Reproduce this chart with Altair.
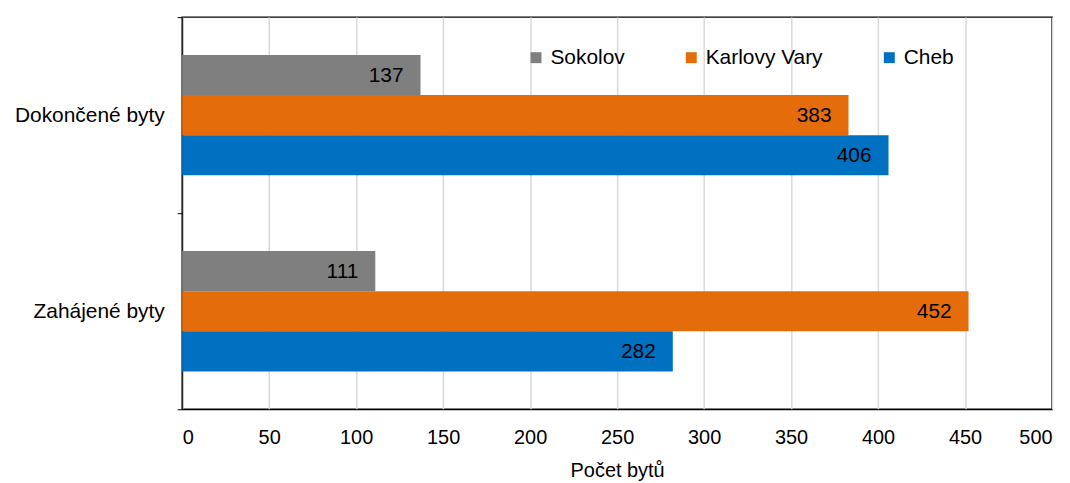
import altair as alt
import pandas as pd

categories = ["Dokončené byty", "Zahájené byty"]
series = ["Sokolov", "Karlovy Vary", "Cheb"]
colors = ["#7f7f7f", "#e46c0a", "#0070c0"]
sokolov = [137, 111]
karlovy_vary = [383, 452]
cheb = [406, 282]

rows = []
for i, c in enumerate(categories):
    for s, vals in zip(series, [sokolov, karlovy_vary, cheb]):
        rows.append({"kategorie": c, "okres": s, "hodnota": vals[i]})
df = pd.DataFrame(rows)

FONT = "Liberation Sans"

y_enc = alt.Y(
    "kategorie:N",
    sort=categories,
    title=None,
    scale=alt.Scale(paddingInner=0, paddingOuter=0),
    axis=alt.Axis(
        tickBand="extent",
        tickColor="black",
        tickSize=5,
        domainColor="black",
        labelFontSize=21,
        labelColor="black",
        labelFont=FONT,
        labelPadding=13,
        grid=False,
    ),
)
yoff = alt.YOffset("okres:N", sort=series, scale=alt.Scale(paddingInner=0, paddingOuter=0.944))
x_enc = alt.X(
    "hodnota:Q",
    title="Počet bytů",
    scale=alt.Scale(domain=[0, 500], nice=False),
    axis=alt.Axis(
        values=[0, 50, 100, 150, 200, 250, 300, 350, 400, 450, 500],
        ticks=False,
        domainColor="black",
        labelFontSize=20,
        labelColor="black",
        labelFont=FONT,
        labelPadding=18,
        titleFontSize=20,
        titleFontWeight="normal",
        titleColor="black",
        titleFont=FONT,
        titlePadding=14,
        grid=True,
        gridColor="#d9d9d9",
        gridWidth=1.5,
    ),
)

bars = alt.Chart(df).mark_bar().encode(
    x=x_enc,
    y=y_enc,
    yOffset=yoff,
    color=alt.Color(
        "okres:N",
        sort=series,
        scale=alt.Scale(domain=series, range=colors),
        legend=alt.Legend(
            title=None,
            orient="none",
            legendX=345,
            legendY=30,
            direction="horizontal",
            columns=3,
            columnPadding=56,
            symbolType="square",
            symbolSize=121,
            symbolStrokeWidth=0,
            labelFontSize=21,
            labelFont=FONT,
            labelColor="black",
            labelOffset=4,
            padding=0,
        ),
    ),
)

labels = alt.Chart(df).mark_text(
    align="right", baseline="middle", dx=-17, dy=1, fontSize=21, font=FONT, color="black"
).encode(
    x=alt.X("hodnota:Q"),
    y=alt.Y("kategorie:N", sort=categories),
    yOffset=yoff,
    text="hodnota:Q",
)

chart = (
    alt.layer(bars, labels)
    .properties(
        width=874,
        height=394,
        autosize=alt.AutoSizeParams(type="none"),
        padding={"left": 175, "top": 8, "right": 10, "bottom": 90},
    )
    .configure_view(stroke="black", strokeWidth=1.5)
)

chart.save("out.html", embed_options={"renderer": "svg", "actions": False})
